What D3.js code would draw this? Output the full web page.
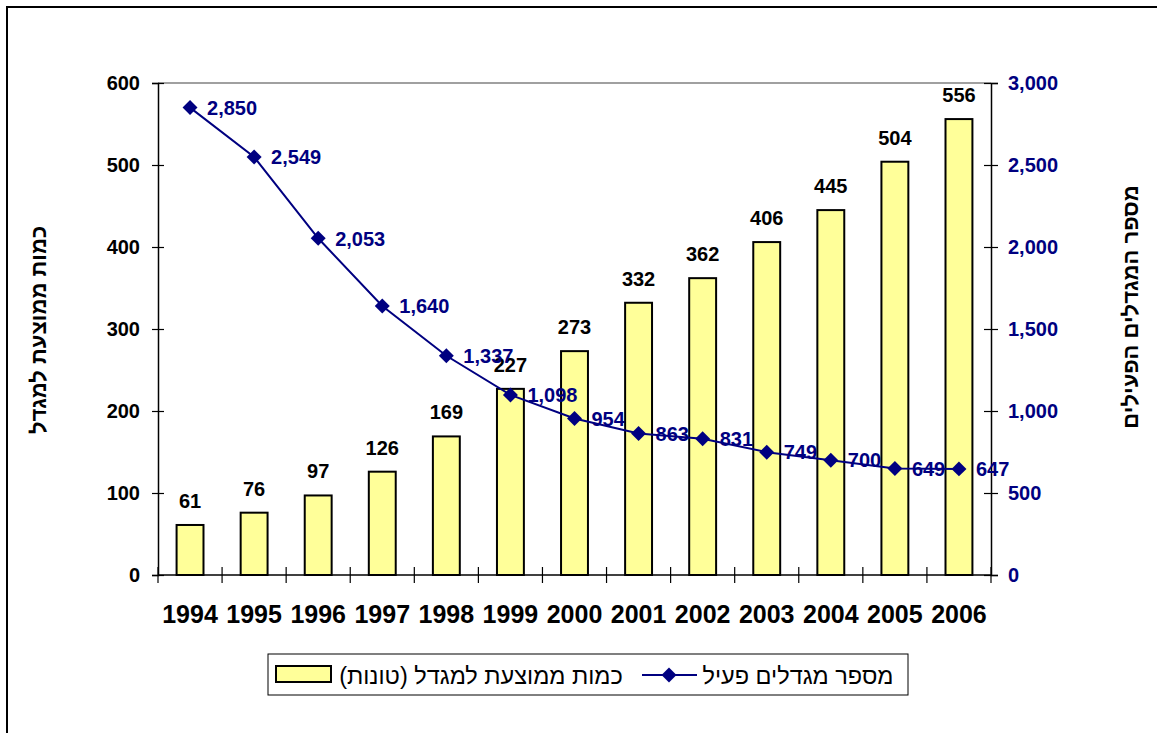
<!DOCTYPE html>
<html>
<head>
<meta charset="utf-8">
<script src="https://cdn.jsdelivr.net/npm/d3@7/dist/d3.min.js"></script>
<style>
  body { margin: 0; background: #fff; }
  svg text { font-family: "Liberation Sans", Arial, sans-serif; }
</style>
</head>
<body>
<div id="chart"></div>
<script>
// chart data
var years = ["1994", "1995", "1996", "1997", "1998", "1999", "2000", "2001", "2002", "2003", "2004", "2005", "2006"];
var avgTons = [61, 76, 97, 126, 169, 227, 273, 332, 362, 406, 445, 504, 556];
var activeTowers = [2850, 2549, 2053, 1640, 1337, 1098, 954, 863, 831, 749, 700, 649, 647];
var leftTicks = [0, 100, 200, 300, 400, 500, 600];
var rightTicks = [0, 500, 1000, 1500, 2000, 2500, 3000];
var leftTitle = "כמות ממוצעת למגדל";
var rightTitle = "מספר המגדלים הפעילים";
var barLegend = "כמות ממוצעת למגדל (טונות)";
var lineLegend = "מספר מגדלים פעיל";

var W = 1157, H = 733;
var navy = "#000080";
var plot = { left: 158, right: 991, top: 83, bottom: 575 };

var svg = d3.select("#chart").append("svg")
  .attr("width", W)
  .attr("height", H);

// outer chart frame (runs off the right and bottom edges)
svg.append("rect")
  .attr("x", 7).attr("y", 7)
  .attr("width", W + 20).attr("height", H + 20)
  .attr("fill", "none")
  .attr("stroke", "#000")
  .attr("stroke-width", 2);

// scales
var x = d3.scaleBand().domain(years).range([plot.left, plot.right]).padding(0);
var yL = d3.scaleLinear().domain([0, 600]).range([plot.bottom, plot.top]);
var yR = d3.scaleLinear().domain([0, 3000]).range([plot.bottom, plot.top]);
var bw = x.bandwidth();
var barW = bw * 0.42;

// plot area top border
svg.append("line")
  .attr("x1", plot.left).attr("x2", plot.right)
  .attr("y1", plot.top).attr("y2", plot.top)
  .attr("stroke", "#808080")
  .attr("stroke-width", 1.5);

// bars
svg.selectAll("rect.bar")
  .data(avgTons)
  .enter().append("rect")
  .attr("class", "bar")
  .attr("x", function(d, i) { return x(years[i]) + (bw - barW) / 2; })
  .attr("y", function(d) { return yL(d); })
  .attr("width", barW)
  .attr("height", function(d) { return yL(0) - yL(d); })
  .attr("fill", "#FFFF99")
  .attr("stroke", "#000")
  .attr("stroke-width", 2);

// bar labels
svg.selectAll("text.barLabel")
  .data(avgTons)
  .enter().append("text")
  .attr("class", "barLabel")
  .attr("x", function(d, i) { return x(years[i]) + bw / 2; })
  .attr("y", function(d) { return yL(d) - 17; })
  .attr("text-anchor", "middle")
  .attr("font-size", 20)
  .attr("font-weight", "bold")
  .attr("fill", "#000")
  .text(function(d) { return d; });

// left axis
var gL = svg.append("g")
  .attr("transform", "translate(" + plot.left + ",0)")
  .call(d3.axisLeft(yL).tickValues(leftTicks).tickSize(6).tickPadding(12).tickFormat(d3.format("d")));
gL.select(".domain").attr("stroke", "#000").attr("stroke-width", 1.5);
gL.selectAll(".tick line").attr("stroke", "#000").attr("stroke-width", 1.2);
gL.selectAll(".tick").append("line").attr("x2", 6).attr("stroke", "#000").attr("stroke-width", 1.2);
gL.selectAll(".tick text")
  .attr("font-size", 20).attr("font-weight", "bold").attr("fill", "#000")
  .attr("font-family", "Liberation Sans, Arial, sans-serif");

// right axis
var gR = svg.append("g")
  .attr("transform", "translate(" + plot.right + ",0)")
  .call(d3.axisRight(yR).tickValues(rightTicks).tickSize(7).tickPadding(10).tickFormat(d3.format(",")));
gR.select(".domain").attr("stroke", "#000").attr("stroke-width", 1.5);
gR.selectAll(".tick line").attr("stroke", "#000").attr("stroke-width", 1.2);
gR.selectAll(".tick").append("line").attr("x2", -7).attr("stroke", "#000").attr("stroke-width", 1.2);
gR.selectAll(".tick text")
  .attr("font-size", 20).attr("font-weight", "bold").attr("fill", navy)
  .attr("font-family", "Liberation Sans, Arial, sans-serif");

// bottom axis line and boundary ticks
svg.append("line")
  .attr("x1", plot.left).attr("x2", plot.right)
  .attr("y1", plot.bottom).attr("y2", plot.bottom)
  .attr("stroke", "#000").attr("stroke-width", 1.5);
var bounds = years.map(function(d) { return x(d); }).concat([plot.right]);
svg.selectAll("line.xtick")
  .data(bounds)
  .enter().append("line")
  .attr("class", "xtick")
  .attr("x1", function(d) { return d; }).attr("x2", function(d) { return d; })
  .attr("y1", plot.bottom - 8).attr("y2", plot.bottom + 8)
  .attr("stroke", "#000").attr("stroke-width", 1.2);

// year labels
svg.selectAll("text.year")
  .data(years)
  .enter().append("text")
  .attr("class", "year")
  .attr("x", function(d) { return x(d) + bw / 2; })
  .attr("y", 623)
  .attr("text-anchor", "middle")
  .attr("font-size", 25)
  .attr("font-weight", "bold")
  .text(function(d) { return d; });

// line series
var line = d3.line()
  .x(function(d, i) { return x(years[i]) + bw / 2; })
  .y(function(d) { return yR(d); });

svg.append("path")
  .datum(activeTowers)
  .attr("d", line)
  .attr("fill", "none")
  .attr("stroke", navy)
  .attr("stroke-width", 2);

var diamond = d3.symbol().type(d3.symbolSquare).size(112);
svg.selectAll("path.marker")
  .data(activeTowers)
  .enter().append("path")
  .attr("class", "marker")
  .attr("d", diamond)
  .attr("transform", function(d, i) {
    return "translate(" + (x(years[i]) + bw / 2) + "," + yR(d) + ") rotate(45)";
  })
  .attr("fill", navy);

svg.selectAll("text.lineLabel")
  .data(activeTowers)
  .enter().append("text")
  .attr("class", "lineLabel")
  .attr("x", function(d, i) { return x(years[i]) + bw / 2 + 17; })
  .attr("y", function(d) { return yR(d); })
  .attr("dy", "0.36em")
  .attr("font-size", 20)
  .attr("font-weight", "bold")
  .attr("fill", navy)
  .text(function(d) { return d3.format(",")(d); });

// axis titles (both read bottom-up, first word on top)
svg.append("text")
  .attr("transform", "translate(46,330) rotate(-90)")
  .attr("text-anchor", "middle")
  .attr("direction", "rtl")
  .attr("font-size", 22)
  .attr("font-weight", "bold")
  .text(leftTitle);

svg.append("text")
  .attr("transform", "translate(1138,307) rotate(-90)")
  .attr("text-anchor", "middle")
  .attr("direction", "rtl")
  .attr("font-size", 22)
  .attr("font-weight", "bold")
  .text(rightTitle);

// legend
var lg = svg.append("g");
lg.append("rect")
  .attr("x", 268).attr("y", 654)
  .attr("width", 640).attr("height", 41)
  .attr("fill", "#fff")
  .attr("stroke", "#000")
  .attr("stroke-width", 1);

lg.append("text")
  .attr("x", 798).attr("y", 676)
  .attr("dy", "0.36em")
  .attr("text-anchor", "middle")
  .attr("direction", "rtl")
  .attr("font-size", 23.5)
  .text(lineLegend);

lg.append("line")
  .attr("x1", 642).attr("x2", 697)
  .attr("y1", 675).attr("y2", 675)
  .attr("stroke", navy).attr("stroke-width", 2);
lg.append("path")
  .attr("d", diamond)
  .attr("transform", "translate(669,675) rotate(45)")
  .attr("fill", navy);

lg.append("text")
  .attr("x", 481).attr("y", 676)
  .attr("dy", "0.36em")
  .attr("text-anchor", "middle")
  .attr("direction", "rtl")
  .attr("font-size", 23.5)
  .text(barLegend);

lg.append("rect")
  .attr("x", 276).attr("y", 666)
  .attr("width", 55).attr("height", 16)
  .attr("fill", "#FFFF99")
  .attr("stroke", "#000")
  .attr("stroke-width", 2);
</script>
</body>
</html>
